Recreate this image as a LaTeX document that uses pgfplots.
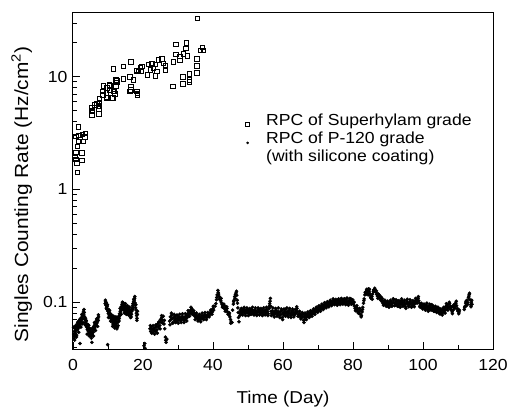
\documentclass[border=0pt]{standalone}
\usepackage{fontspec}
\setmainfont{Liberation Sans}[FakeStretch=1.1]
\usepackage{pgfplots}
\pgfplotsset{compat=1.18}

\begin{document}
\fontsize{16bp}{18bp}\selectfont
\begin{tikzpicture}
\begin{axis}[
  scale only axis,
  width=420bp, height=336bp,
  ymode=log,
  xmin=0, xmax=120,
  ymin=0.0384, ymax=36.8,
  xtick={0,20,...,120},
  minor xtick={10,30,...,110},
  ytick={0.1,1,10},
  yticklabels={0.1,1,10},
  minor ytick={0.04,0.05,0.06,0.07,0.08,0.09,0.2,0.3,0.4,0.5,0.6,0.7,0.8,0.9,2,3,4,5,6,7,8,9,20,30},
  /pgf/number format/assume math mode=true,
  tick align=inside,
  tick pos=left,
  major tick length=7bp,
  minor tick length=4bp,
  every tick/.style={black, line width=0.9bp},
  axis line style={line width=1bp},
  xticklabel style={yshift=-5bp},
  xlabel={Time (Day)},
  ylabel={Singles Counting Rate (Hz/cm\textsuperscript{2})},
  xlabel style={at={(axis description cs:0.5,0)}, anchor=base, yshift=-54bp,
    font=\fontsize{17.2bp}{20bp}\selectfont},
  ylabel style={at={(axis description cs:-0.107,0.46)}, anchor=base,
    font=\fontsize{19bp}{22bp}\selectfont},
  legend style={draw=none, fill=none, at={(axis description cs:0.409,0.701)},
    anchor=north west, inner sep=0bp, column sep=16bp,
    nodes={inner sep=0bp, text height=11.5bp, text depth=6.8bp},
    font=\fontsize{16bp}{18bp}\selectfont},
  legend cell align=left,
]

% Superhylam grade RPC
\addplot[only marks, mark=square, mark size=2.2bp, line width=0.8bp, black,
  legend image code/.code={\draw[black, line width=0.8bp] (-2.2bp,-3.7bp) rectangle (2.2bp,0.7bp);}]
  table[row sep=\\] {
0.6 1.97\\ 0.8 2.14\\ 0.8 1.84\\ 0.8 2.96\\ 1.1 1.72\\ 1.2 1.41\\ 1.2 2.41\\
1.5 3.59\\ 1.7 3.01\\ 1.7 2.67\\ 2.5 2.11\\ 2.5 1.82\\ 2.7 3.07\\ 2.8 2.67\\
3.4 2.93\\ 3.6 3.13\\ 5.4 5.28\\ 5.4 4.93\\ 5.4 4.60\\ 5.5 5.00\\ 6.3 5.65\\
6.8 5.77\\ 7.3 5.53\\ 7.4 5.17\\ 7.4 4.67\\ 7.5 5.93\\ 7.5 6.35\\ 7.5 5.77\\
8.5 7.41\\ 8.5 6.93\\ 8.7 8.32\\ 9.5 7.17\\ 9.5 6.47\\ 9.7 7.94\\ 9.7 6.55\\
10.4 8.50\\ 10.6 7.57\\ 10.6 8.32\\ 11.1 6.47\\ 11.4 6.47\\ 11.5 7.41\\
11.5 11.7\\ 11.8 7.41\\ 12.0 7.03\\ 12.3 8.32\\ 12.3 9.40\\ 12.5 9.27\\
12.5 8.90\\ 14.4 12.3\\ 14.4 9.55\\ 16.3 9.94\\ 16.3 7.41\\ 16.5 8.11\\
16.5 7.67\\ 16.6 13.5\\ 17.3 9.40\\ 18.2 11.3\\ 18.3 11.4\\ 18.3 7.41\\
18.4 7.08\\ 18.4 6.93\\ 18.7 11.1\\ 19.2 12.1\\ 19.5 11.3\\ 19.7 12.3\\
21.3 10.4\\ 21.6 12.8\\ 22.1 11.5\\ 22.5 13.2\\ 23.0 11.9\\ 23.5 12.8\\
23.5 10.2\\ 24.0 11.1\\ 24.4 14.1\\ 25.4 14.4\\ 25.9 13.2\\ 26.4 12.5\\
26.4 11.5\\ 28.5 8.20\\ 28.6 13.6\\ 29.4 19.3\\ 29.4 15.7\\ 30.5 15.1\\
30.5 13.9\\ 31.4 9.94\\ 31.4 8.67\\ 31.6 15.9\\ 32.3 17.9\\ 32.4 19.9\\
32.6 15.3\\ 33.3 10.6\\ 33.3 9.41\\ 33.3 8.97\\ 35.4 14.4\\ 35.4 12.5\\
35.4 10.8\\ 35.6 33.0\\ 36.4 17.1\\ 36.9 18.3\\ 37.3 17.1\\
};
\addlegendentry{RPC of Superhylam grade}

% P-120 grade RPC with silicone coating
\addplot[only marks, mark=*, mark size=1.6bp, black,
  legend image code/.code={\fill[black] (0bp,-1.8bp) circle (1.1bp);}]
  table[row sep=\\] {
0.2 0.052\\ 0.3 0.048\\ 0.4 0.055\\ 0.5 0.050\\ 0.6 0.058\\ 0.7 0.053\\ 0.8 0.061\\
0.9 0.056\\ 1.0 0.049\\ 1.1 0.060\\ 1.2 0.064\\ 1.3 0.057\\ 1.4 0.062\\ 1.5 0.067\\
1.6 0.059\\ 1.7 0.063\\ 1.8 0.069\\ 1.9 0.066\\ 2.0 0.043\\ 2.0 0.061\\ 2.1 0.071\\
2.2 0.065\\ 2.3 0.068\\ 2.4 0.073\\ 2.5 0.070\\ 2.6 0.064\\ 2.7 0.076\\ 2.8 0.072\\
2.9 0.079\\ 3.0 0.083\\ 3.1 0.077\\ 3.2 0.081\\ 3.3 0.074\\ 3.4 0.070\\ 3.5 0.066\\
3.6 0.072\\ 3.7 0.062\\ 3.8 0.068\\ 3.9 0.060\\ 4.0 0.064\\ 4.1 0.057\\ 4.2 0.061\\
4.3 0.059\\ 4.4 0.055\\ 4.5 0.062\\ 4.6 0.053\\ 4.7 0.058\\ 4.8 0.056\\ 4.9 0.051\\
5.0 0.054\\ 5.1 0.057\\ 5.2 0.050\\ 5.3 0.053\\ 5.4 0.044\\ 5.5 0.052\\ 5.6 0.055\\
5.7 0.058\\ 5.8 0.054\\ 5.9 0.060\\ 6.0 0.057\\ 6.1 0.062\\ 6.2 0.059\\ 6.3 0.064\\
6.4 0.061\\ 6.5 0.066\\ 6.6 0.063\\ 6.7 0.068\\ 6.8 0.065\\ 6.9 0.070\\ 7.0 0.067\\
7.1 0.072\\ 7.2 0.069\\ 7.3 0.074\\
9.2 0.097\\ 9.3 0.101\\ 9.4 0.094\\ 9.5 0.099\\ 9.6 0.090\\ 9.7 0.086\\ 9.8 0.092\\
9.9 0.042\\ 10.0 0.083\\ 10.1 0.079\\ 10.2 0.086\\ 10.3 0.081\\ 10.4 0.076\\
10.5 0.080\\ 10.6 0.074\\ 10.7 0.078\\ 10.8 0.072\\ 10.9 0.076\\ 11.0 0.070\\
11.1 0.074\\ 11.2 0.067\\ 11.3 0.071\\ 11.4 0.064\\ 11.5 0.069\\ 11.6 0.073\\
11.7 0.066\\ 11.8 0.070\\ 11.9 0.063\\ 12.0 0.068\\ 12.1 0.061\\ 12.2 0.065\\
12.3 0.071\\ 12.4 0.062\\ 12.5 0.067\\ 12.6 0.073\\ 12.7 0.060\\ 12.8 0.066\\
12.9 0.062\\ 13.0 0.070\\ 13.1 0.075\\ 13.2 0.072\\ 13.3 0.079\\ 13.4 0.076\\
13.5 0.083\\ 13.6 0.080\\ 13.7 0.087\\ 13.8 0.091\\ 13.9 0.085\\ 14.0 0.096\\
14.1 0.100\\ 14.2 0.093\\ 14.3 0.089\\ 14.4 0.095\\ 14.5 0.086\\ 14.6 0.091\\
14.7 0.084\\ 14.8 0.088\\ 14.9 0.093\\ 15.0 0.087\\ 15.1 0.090\\ 15.2 0.082\\
15.3 0.086\\ 15.4 0.080\\ 15.5 0.089\\ 15.6 0.084\\ 15.7 0.079\\ 15.8 0.083\\
15.9 0.087\\ 16.0 0.081\\ 16.1 0.085\\ 16.2 0.078\\ 16.3 0.082\\ 16.4 0.076\\
16.5 0.080\\ 16.6 0.074\\ 16.7 0.078\\ 16.8 0.083\\ 16.9 0.088\\ 17.0 0.093\\
17.1 0.097\\ 17.2 0.090\\ 17.3 0.101\\ 17.4 0.095\\ 17.5 0.104\\ 17.6 0.108\\
17.7 0.099\\ 17.8 0.094\\ 17.9 0.089\\ 18.0 0.085\\ 18.1 0.080\\ 18.2 0.076\\
18.3 0.072\\ 18.4 0.078\\
20.3 0.041\\ 20.5 0.043\\ 20.6 0.039\\
22.0 0.058\\ 22.2 0.055\\ 22.4 0.060\\ 22.6 0.057\\ 22.8 0.054\\ 23.0 0.058\\
23.2 0.056\\ 23.4 0.059\\ 23.6 0.055\\ 23.8 0.061\\ 24.0 0.057\\ 24.2 0.064\\
24.4 0.060\\ 24.6 0.067\\ 24.8 0.062\\ 25.0 0.070\\ 25.2 0.066\\ 25.4 0.073\\
25.6 0.069\\ 25.8 0.075\\ 26.0 0.064\\ 26.2 0.058\\ 26.4 0.049\\ 26.5 0.046\\
26.6 0.044\\ 26.8 0.047\\
27.6 0.068\\ 27.8 0.074\\ 28.0 0.070\\ 28.2 0.077\\ 28.4 0.072\\ 28.6 0.066\\
28.8 0.073\\ 29.0 0.069\\ 29.2 0.075\\ 29.4 0.071\\ 29.6 0.067\\ 29.8 0.072\\
30.0 0.069\\ 30.2 0.074\\ 30.4 0.070\\ 30.6 0.073\\ 30.8 0.068\\ 31.0 0.071\\
31.2 0.075\\ 31.4 0.070\\ 31.6 0.073\\ 31.8 0.069\\ 32.0 0.074\\ 32.2 0.071\\
32.4 0.076\\ 32.6 0.073\\ 32.8 0.079\\ 33.0 0.076\\ 33.2 0.082\\ 33.4 0.079\\
33.6 0.085\\ 33.8 0.081\\ 34.0 0.087\\ 34.2 0.083\\ 34.4 0.078\\ 34.6 0.080\\
34.8 0.075\\ 35.0 0.078\\ 35.2 0.073\\ 35.4 0.076\\ 35.6 0.072\\ 35.8 0.075\\
36.0 0.071\\ 36.2 0.074\\ 36.4 0.070\\ 36.6 0.073\\ 36.8 0.076\\ 37.0 0.072\\
37.2 0.075\\ 37.4 0.073\\ 37.6 0.077\\ 37.8 0.074\\ 38.0 0.076\\ 38.2 0.073\\
38.4 0.077\\ 38.6 0.075\\ 38.8 0.079\\ 39.0 0.077\\ 39.2 0.081\\ 39.4 0.079\\
39.6 0.084\\ 39.8 0.082\\ 40.0 0.088\\ 40.2 0.085\\
40.6 0.092\\ 40.8 0.097\\ 41.0 0.105\\ 41.2 0.116\\ 41.4 0.127\\ 41.6 0.118\\
41.8 0.112\\ 42.0 0.107\\ 42.2 0.103\\ 42.4 0.099\\ 42.6 0.095\\ 42.8 0.092\\
43.0 0.089\\ 43.2 0.093\\ 43.4 0.087\\ 43.6 0.090\\ 43.8 0.084\\ 44.0 0.088\\
44.2 0.082\\ 44.4 0.080\\ 44.6 0.077\\ 44.8 0.074\\ 45.0 0.070\\ 45.2 0.067\\
45.4 0.066\\ 45.6 0.085\\ 45.8 0.096\\ 46.0 0.104\\ 46.2 0.112\\ 46.4 0.117\\
46.6 0.121\\ 46.8 0.115\\ 47.0 0.098\\ 47.1 0.089\\ 47.2 0.081\\ 47.3 0.073\\
47.4 0.067\\
47.6 0.080\\ 47.8 0.085\\ 48.0 0.082\\ 48.2 0.078\\ 48.4 0.084\\ 48.6 0.081\\
48.8 0.087\\ 49.0 0.083\\ 49.2 0.079\\ 49.4 0.085\\ 49.6 0.082\\ 49.8 0.086\\
50.0 0.080\\ 50.2 0.084\\ 50.4 0.081\\ 50.6 0.078\\ 50.8 0.083\\ 51.0 0.086\\
51.2 0.082\\ 51.4 0.079\\ 51.6 0.084\\ 51.8 0.081\\ 52.0 0.085\\ 52.2 0.080\\
52.4 0.083\\ 52.6 0.078\\ 52.8 0.082\\ 53.0 0.086\\ 53.2 0.081\\ 53.4 0.084\\
53.6 0.079\\ 53.8 0.083\\ 54.0 0.080\\ 54.2 0.085\\ 54.4 0.082\\ 54.6 0.078\\
54.8 0.084\\ 55.0 0.081\\ 55.2 0.086\\ 55.4 0.080\\ 55.6 0.083\\ 55.8 0.079\\
56.0 0.088\\ 56.2 0.097\\ 56.4 0.108\\ 56.5 0.092\\ 56.6 0.083\\ 56.8 0.079\\
57.0 0.084\\ 57.2 0.080\\ 57.4 0.077\\ 57.6 0.082\\ 57.8 0.079\\ 58.0 0.085\\
58.2 0.081\\ 58.4 0.077\\ 58.6 0.083\\ 58.8 0.080\\ 59.0 0.076\\ 59.2 0.082\\
59.4 0.078\\ 59.6 0.084\\ 59.8 0.073\\ 60.0 0.080\\ 60.2 0.077\\ 60.4 0.083\\
60.6 0.079\\ 60.8 0.086\\ 61.0 0.081\\ 61.2 0.077\\ 61.4 0.083\\ 61.6 0.080\\
61.8 0.085\\ 62.0 0.079\\ 62.2 0.076\\ 62.4 0.082\\ 62.6 0.078\\ 62.8 0.084\\
63.0 0.080\\ 63.2 0.077\\ 63.4 0.081\\ 63.6 0.079\\ 63.8 0.083\\ 64.0 0.088\\
64.2 0.082\\ 64.4 0.078\\ 64.6 0.075\\ 64.8 0.079\\ 65.0 0.076\\ 65.2 0.073\\
65.4 0.077\\ 65.6 0.074\\ 65.8 0.078\\ 66.0 0.066\\ 66.1 0.070\\
66.2 0.074\\ 66.4 0.077\\ 66.6 0.073\\ 66.8 0.078\\ 67.0 0.075\\ 67.2 0.079\\
67.4 0.076\\ 67.6 0.080\\ 67.8 0.077\\ 68.0 0.081\\ 68.2 0.078\\ 68.4 0.083\\
68.6 0.079\\ 68.8 0.084\\ 69.0 0.081\\ 69.2 0.086\\ 69.4 0.082\\ 69.6 0.087\\
69.8 0.084\\ 70.0 0.089\\ 70.2 0.085\\ 70.4 0.090\\ 70.6 0.086\\ 70.8 0.091\\
71.0 0.088\\ 71.2 0.093\\ 71.4 0.089\\ 71.6 0.094\\ 71.8 0.090\\ 72.0 0.095\\
72.2 0.092\\ 72.4 0.097\\ 72.6 0.093\\ 72.8 0.098\\ 73.0 0.094\\ 73.2 0.099\\
73.4 0.095\\ 73.6 0.100\\ 73.8 0.096\\ 74.0 0.101\\ 74.2 0.097\\ 74.4 0.103\\
74.6 0.098\\ 74.8 0.102\\ 75.0 0.097\\ 75.2 0.101\\ 75.4 0.096\\ 75.6 0.104\\
75.8 0.099\\ 76.0 0.103\\ 76.2 0.098\\ 76.4 0.102\\ 76.6 0.097\\ 76.8 0.105\\
77.0 0.100\\ 77.2 0.104\\ 77.4 0.099\\ 77.6 0.103\\ 77.8 0.098\\ 78.0 0.106\\
78.2 0.101\\ 78.4 0.096\\ 78.6 0.102\\ 78.8 0.098\\ 79.0 0.104\\ 79.2 0.100\\
79.4 0.107\\ 79.6 0.102\\ 79.8 0.097\\ 80.0 0.101\\
80.2 0.096\\ 80.4 0.092\\ 80.6 0.088\\ 80.8 0.085\\ 81.0 0.090\\ 81.2 0.083\\
81.4 0.087\\ 81.6 0.081\\ 81.8 0.079\\ 82.0 0.084\\ 82.2 0.078\\ 82.4 0.076\\
82.6 0.082\\ 82.8 0.090\\ 83.0 0.098\\ 83.2 0.107\\ 83.4 0.116\\ 83.6 0.123\\
83.8 0.118\\ 84.0 0.127\\ 84.2 0.121\\ 84.4 0.131\\ 84.6 0.125\\ 84.8 0.119\\
85.0 0.114\\ 85.2 0.108\\ 85.4 0.112\\ 85.6 0.118\\ 85.8 0.124\\ 86.0 0.129\\
86.2 0.133\\ 86.4 0.127\\ 86.6 0.122\\ 86.8 0.117\\ 87.0 0.113\\ 87.2 0.118\\
87.4 0.110\\ 87.6 0.114\\ 87.8 0.107\\ 88.0 0.111\\
88.2 0.104\\ 88.4 0.100\\ 88.6 0.097\\ 88.8 0.102\\ 89.0 0.098\\ 89.2 0.095\\
89.4 0.100\\ 89.6 0.096\\ 89.8 0.093\\ 90.0 0.098\\ 90.2 0.094\\ 90.4 0.099\\
90.6 0.095\\ 90.8 0.101\\ 91.0 0.097\\ 91.2 0.093\\ 91.4 0.099\\ 91.6 0.104\\
91.8 0.098\\ 92.0 0.094\\ 92.2 0.100\\ 92.4 0.096\\ 92.6 0.102\\ 92.8 0.097\\
93.0 0.092\\ 93.2 0.098\\ 93.4 0.095\\ 93.6 0.101\\ 93.8 0.096\\ 94.0 0.103\\
94.2 0.099\\ 94.4 0.094\\ 94.6 0.100\\ 94.8 0.096\\ 95.0 0.091\\ 95.2 0.097\\
95.4 0.102\\ 95.6 0.098\\ 95.8 0.094\\ 96.0 0.099\\ 96.2 0.095\\ 96.4 0.101\\
96.6 0.097\\ 96.8 0.092\\ 97.0 0.098\\ 97.2 0.094\\ 97.4 0.100\\ 97.6 0.096\\
97.8 0.103\\ 98.0 0.099\\ 98.2 0.106\\ 98.4 0.102\\ 98.6 0.108\\ 98.8 0.103\\
99.0 0.098\\ 99.2 0.094\\ 99.4 0.090\\ 99.6 0.095\\ 99.8 0.091\\ 100.0 0.096\\
100.2 0.092\\ 100.4 0.088\\ 100.6 0.093\\ 100.8 0.089\\ 101.0 0.094\\ 101.2 0.090\\
101.4 0.086\\ 101.6 0.091\\ 101.8 0.087\\ 102.0 0.093\\ 102.2 0.089\\ 102.4 0.095\\
102.6 0.090\\ 102.8 0.086\\ 103.0 0.091\\ 103.2 0.087\\ 103.4 0.083\\ 103.6 0.088\\
103.8 0.085\\ 104.0 0.090\\ 104.2 0.086\\ 104.4 0.082\\ 104.6 0.087\\ 104.8 0.083\\
105.0 0.079\\ 105.2 0.084\\ 105.4 0.080\\ 105.6 0.086\\ 105.8 0.082\\ 106.0 0.088\\
106.2 0.084\\ 106.4 0.091\\ 106.6 0.086\\ 106.8 0.093\\ 107.0 0.089\\ 107.2 0.095\\
107.4 0.090\\ 107.6 0.097\\ 107.8 0.092\\ 108.0 0.086\\ 108.2 0.091\\ 108.4 0.079\\
108.6 0.085\\ 108.8 0.090\\ 109.0 0.096\\ 109.2 0.092\\ 109.4 0.098\\ 109.6 0.093\\
109.8 0.088\\ 110.0 0.083\\ 110.2 0.079\\ 110.4 0.085\\
111.8 0.086\\ 112.0 0.092\\ 112.2 0.098\\ 112.4 0.093\\ 112.6 0.104\\ 112.8 0.099\\
113.0 0.110\\ 113.2 0.117\\ 113.4 0.105\\ 113.6 0.095\\ 113.8 0.100\\ 114.0 0.096\\
};
\addlegendentry{RPC of P-120 grade}
\addlegendimage{empty legend}
\addlegendentry{(with silicone coating)}

% further P-120 readings: the spread above and below the band
\addplot[only marks, mark=*, mark size=1.6bp, black, forget plot]
  table[row sep=\\] {
0.15 0.060\\ 0.45 0.046\\ 0.75 0.062\\ 1.05 0.051\\ 1.35 0.066\\ 1.65 0.054\\
1.95 0.070\\ 2.25 0.060\\ 2.55 0.078\\ 2.85 0.066\\ 3.15 0.086\\ 3.45 0.063\\
3.75 0.069\\ 4.05 0.052\\ 4.35 0.063\\ 4.65 0.050\\ 4.95 0.058\\ 5.25 0.048\\
5.55 0.059\\ 5.85 0.050\\ 6.15 0.066\\ 6.45 0.056\\ 6.75 0.071\\ 7.05 0.061\\
7.25 0.077\\
9.25 0.104\\ 9.55 0.088\\ 9.85 0.095\\ 10.15 0.073\\ 10.45 0.084\\ 10.75 0.068\\
11.05 0.077\\ 11.35 0.061\\ 11.65 0.075\\ 11.95 0.059\\ 12.25 0.074\\ 12.55 0.058\\
12.85 0.071\\ 13.15 0.068\\ 13.45 0.088\\ 13.75 0.078\\ 14.05 0.090\\ 14.35 0.099\\
14.65 0.080\\ 14.95 0.097\\ 15.25 0.078\\ 15.55 0.093\\ 15.85 0.077\\ 16.15 0.090\\
16.45 0.073\\ 16.75 0.086\\ 17.05 0.086\\ 17.35 0.106\\ 17.65 0.112\\ 17.95 0.095\\
18.25 0.069\\ 18.45 0.083\\
22.1 0.062\\ 22.5 0.053\\ 22.9 0.062\\ 23.3 0.052\\ 23.7 0.063\\ 24.1 0.053\\
24.5 0.066\\ 24.9 0.058\\ 25.3 0.076\\ 25.7 0.065\\ 26.1 0.069\\
27.7 0.063\\ 28.1 0.080\\ 28.5 0.065\\ 28.9 0.078\\ 29.3 0.066\\ 29.7 0.077\\
30.1 0.065\\ 30.5 0.078\\ 30.9 0.066\\ 31.3 0.079\\ 31.7 0.066\\ 32.1 0.079\\
32.5 0.068\\ 32.9 0.084\\ 33.3 0.075\\ 33.7 0.090\\ 34.1 0.078\\ 34.5 0.084\\
34.9 0.070\\ 35.3 0.080\\ 35.7 0.068\\ 36.1 0.078\\ 36.5 0.067\\ 36.9 0.080\\
37.3 0.070\\ 37.7 0.081\\ 38.1 0.070\\ 38.5 0.081\\ 38.9 0.074\\ 39.3 0.085\\
39.7 0.078\\ 40.1 0.092\\
41.1 0.110\\ 41.5 0.122\\ 41.9 0.106\\ 42.3 0.108\\ 42.7 0.090\\ 43.1 0.096\\
43.5 0.083\\ 43.9 0.091\\ 44.3 0.078\\ 44.7 0.080\\ 45.1 0.065\\ 45.9 0.101\\
46.3 0.108\\ 46.7 0.125\\ 46.9 0.104\\
47.7 0.076\\ 48.1 0.088\\ 48.5 0.077\\ 48.9 0.090\\ 49.3 0.076\\ 49.7 0.089\\
50.1 0.076\\ 50.5 0.088\\ 50.9 0.078\\ 51.3 0.090\\ 51.7 0.077\\ 52.1 0.089\\
52.5 0.076\\ 52.9 0.089\\ 53.3 0.077\\ 53.7 0.088\\ 54.1 0.076\\ 54.5 0.089\\
54.9 0.077\\ 55.3 0.090\\ 55.7 0.076\\ 56.1 0.092\\ 56.3 0.102\\ 56.7 0.076\\
57.1 0.089\\ 57.5 0.074\\ 57.9 0.088\\ 58.3 0.075\\ 58.7 0.089\\ 59.1 0.073\\
59.5 0.087\\ 59.9 0.070\\ 60.3 0.087\\ 60.7 0.075\\ 61.1 0.089\\ 61.5 0.074\\
61.9 0.088\\ 62.3 0.073\\ 62.7 0.087\\ 63.1 0.074\\ 63.5 0.086\\ 63.9 0.091\\
64.3 0.075\\ 64.7 0.083\\ 65.1 0.071\\ 65.5 0.081\\ 65.9 0.069\\
66.3 0.080\\ 66.7 0.070\\ 67.1 0.082\\ 67.5 0.073\\ 67.9 0.084\\ 68.3 0.075\\
68.7 0.087\\ 69.1 0.078\\ 69.5 0.090\\ 69.9 0.081\\ 70.3 0.093\\ 70.7 0.083\\
71.1 0.096\\ 71.5 0.086\\ 71.9 0.099\\ 72.3 0.089\\ 72.7 0.101\\ 73.1 0.091\\
73.5 0.104\\ 73.9 0.093\\ 74.3 0.107\\ 74.7 0.095\\ 75.1 0.106\\ 75.5 0.094\\
75.9 0.107\\ 76.3 0.095\\ 76.7 0.108\\ 77.1 0.096\\ 77.5 0.107\\ 77.9 0.095\\
78.3 0.109\\ 78.7 0.094\\ 79.1 0.108\\ 79.5 0.096\\ 79.9 0.105\\
80.3 0.100\\ 80.7 0.084\\ 81.1 0.093\\ 81.5 0.080\\ 81.9 0.088\\ 82.3 0.074\\
82.7 0.086\\ 83.1 0.103\\ 83.5 0.121\\ 83.9 0.130\\ 84.3 0.116\\ 84.7 0.130\\
85.1 0.110\\ 85.5 0.106\\ 85.9 0.128\\ 86.3 0.124\\ 86.7 0.126\\ 87.1 0.108\\
87.5 0.116\\ 87.9 0.104\\
88.3 0.108\\ 88.7 0.094\\ 89.1 0.104\\ 89.5 0.092\\ 89.9 0.102\\ 90.3 0.090\\
90.7 0.104\\ 91.1 0.092\\ 91.5 0.107\\ 91.9 0.093\\ 92.3 0.105\\ 92.7 0.092\\
93.1 0.103\\ 93.5 0.090\\ 93.9 0.107\\ 94.3 0.092\\ 94.7 0.104\\ 95.1 0.088\\
95.5 0.106\\ 95.9 0.091\\ 96.3 0.105\\ 96.7 0.090\\ 97.1 0.103\\ 97.5 0.091\\
97.9 0.108\\ 98.3 0.098\\ 98.7 0.112\\ 99.1 0.091\\ 99.5 0.098\\ 99.9 0.087\\
100.3 0.096\\ 100.7 0.085\\ 101.1 0.098\\ 101.5 0.083\\ 101.9 0.096\\ 102.3 0.085\\
102.7 0.094\\ 103.1 0.083\\ 103.5 0.092\\ 103.9 0.081\\ 104.3 0.090\\ 104.7 0.079\\
105.1 0.087\\ 105.5 0.077\\ 105.9 0.090\\ 106.3 0.080\\ 106.7 0.097\\ 107.1 0.085\\
107.5 0.100\\ 107.9 0.087\\ 108.3 0.082\\ 108.7 0.094\\ 109.1 0.088\\ 109.5 0.102\\
109.9 0.085\\ 110.3 0.082\\
111.9 0.090\\ 112.3 0.102\\ 112.7 0.095\\ 113.1 0.113\\ 113.3 0.120\\ 113.7 0.091\\
113.9 0.104\\
};

\end{axis}
\pgfresetboundingbox
\path[use as bounding box] (-73bp,-58bp) rectangle (434bp,349bp);
\end{tikzpicture}
\end{document}
